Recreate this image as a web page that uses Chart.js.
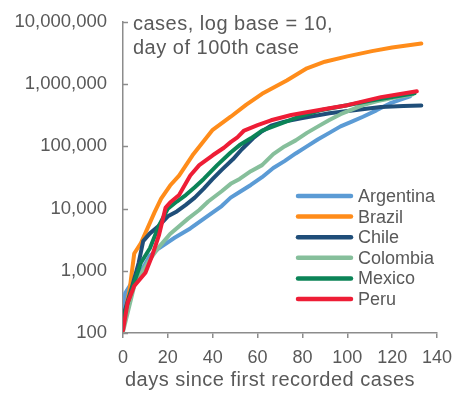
<!DOCTYPE html>
<html>
<head>
<meta charset="utf-8">
<script src="https://cdn.jsdelivr.net/npm/chart.js@4"></script>
<style>
html,body{margin:0;padding:0;background:#fff;}
#wrap{position:relative;width:472px;height:398px;}
</style>
</head>
<body>
<div id="wrap"><canvas id="c" width="472" height="398"></canvas></div>
<script>
// ---- data ----
const countries = ["Argentina", "Brazil", "Chile", "Colombia", "Mexico", "Peru"];
const colors = ["#5B9BD5", "#FF8C1A", "#1F4E79", "#86BF9B", "#0B8457", "#EE1D36"];

const argentinaDays  = [0,1,4,7,12,16,23,30,38,44,48,52,57,62,67,72,77,82,87,92,97,102,107,113,119,124,128];
const argentinaCases = [200,440,650,830,1750,2300,3400,4800,7700,11000,15000,18500,24000,32000,45000,58000,77000,100000,130000,165000,210000,250000,300000,380000,490000,570000,640000];

const brazilDays  = [0,3,5,8,11,14,17,21,25,31,40,48,55,62,73,82,90,100,111,120,133];
const brazilCases = [145,510,1900,2800,4900,8600,14500,23500,34000,72000,185000,300000,470000,700000,1150000,1800000,2300000,2800000,3400000,3900000,4500000];

const chileDays  = [0,4,7,9,12,16,20,24,28,32,36,40,44,49,53,58,62,66,72,80,92,103,115,125,133];
const chileCases = [180,550,1350,3000,4000,5300,7500,9000,11500,15000,21000,30000,42000,62000,90000,135000,175000,215000,250000,285000,340000,380000,430000,445000,455000];

const colombiaDays  = [0,5,11,16,21,29,34,38,44,48,52,57,62,67,72,77,82,87,92,97,102,107,113,120,129];
const colombiaCases = [105,570,1350,2400,3900,6900,9500,13000,19000,25000,30000,40000,50000,75000,100000,125000,165000,210000,265000,330000,390000,460000,530000,600000,680000];

const mexicoDays  = [0,4,8,12,16,20,24,28,32,36,42,48,52,57,62,70,78,88,100,110,120,130];
const mexicoCases = [170,510,1350,2300,5300,10000,13000,16500,22000,30000,50000,80000,105000,135000,180000,230000,296000,380000,460000,540000,620000,715000];

const peruDays  = [0,2,5,10,13,16,19,21,25,30,34,40,45,48,51,54,60,66,75,85,92,100,108,115,123,131];
const peruCases = [110,300,570,930,1750,3700,10400,12500,16500,34000,50000,72000,95000,117000,140000,180000,220000,263000,320000,370000,410000,460000,540000,620000,690000,770000];

const yTickValues = [100, 1000, 10000, 100000, 1000000, 10000000];
const xTickValues = [0, 20, 40, 60, 80, 100, 120, 140];
const chartNote = ["cases, log base = 10,", "day of 100th case"];
const xTitle = "days since first recorded cases";

// ---- build ----
const allDays = [argentinaDays, brazilDays, chileDays, colombiaDays, mexicoDays, peruDays];
const allCases = [argentinaCases, brazilCases, chileCases, colombiaCases, mexicoCases, peruCases];

const FONT = '"Liberation Sans", Arial, sans-serif';
const TXT = '#595959';
const AX = '#8C8C8C';

const datasets = countries.map((name, i) => ({
  label: name,
  data: allDays[i].map((d, j) => ({x: d, y: allCases[i][j]})),
  borderColor: colors[i],
  backgroundColor: colors[i],
  borderWidth: 4,
  pointRadius: 0,
  tension: 0,
  fill: false,
  borderJoinStyle: 'round',
  borderCapStyle: 'round',
  order: countries.length - i
}));

const fmt = v => v.toLocaleString('en-US');

const extras = {
  id: 'extras',
  afterDatasetsDraw(chart) {
    const ctx = chart.ctx;
    const a = chart.chartArea;
    const ys = chart.scales.y;
    ctx.save();
    // inner y tick marks
    ctx.strokeStyle = AX;
    ctx.lineWidth = 1.5;
    yTickValues.forEach(v => {
      const py = Math.round(ys.getPixelForValue(v)) + 0.5;
      ctx.beginPath();
      ctx.moveTo(a.left, py);
      ctx.lineTo(a.left + 5, py);
      ctx.stroke();
    });
    // note text
    ctx.fillStyle = TXT;
    ctx.font = '20px ' + FONT;
    try { ctx.letterSpacing = '0.5px'; } catch (e) {}
    ctx.textBaseline = 'alphabetic';
    ctx.textAlign = 'left';
    ctx.fillText(chartNote[0], a.left + 10, a.bottom - 303);
    ctx.fillText(chartNote[1], a.left + 10, a.bottom - 279);
    // x-axis title
    ctx.textAlign = 'center';
    ctx.fillText(xTitle, a.left + 147, a.bottom + 53);
    try { ctx.letterSpacing = '0px'; } catch (e) {}
    // legend
    ctx.font = '18px ' + FONT;
    ctx.textAlign = 'left';
    chart.data.datasets.forEach((ds, i) => {
      const y = a.bottom - 137 + i * 20.6;
      ctx.strokeStyle = ds.borderColor;
      ctx.lineWidth = 4.5;
      ctx.lineCap = 'round';
      ctx.beginPath();
      ctx.moveTo(a.right - 139, y);
      ctx.lineTo(a.right - 86, y);
      ctx.stroke();
      ctx.fillStyle = TXT;
      ctx.textBaseline = 'middle';
      ctx.fillText(ds.label, a.right - 79, y + 1);
    });
    ctx.restore();
  }
};

new Chart(document.getElementById('c'), {
  type: 'line',
  data: { datasets },
  options: {
    responsive: false,
    animation: false,
    layout: { padding: { top: 22, right: 35, bottom: 0, left: 0 } },
    plugins: { legend: { display: false }, tooltip: { enabled: false }, title: { display: false } },
    scales: {
      x: {
        type: 'linear',
        min: 0, max: 140,
        afterBuildTicks: s => { s.ticks = xTickValues.map(v => ({value: v})); },
        afterFit: s => { s.height = 65; },
        grid: { display: true, drawOnChartArea: false, drawTicks: true, tickLength: 5, color: AX, lineWidth: 1.5 },
        border: { display: true, color: AX, width: 1.5 },
        ticks: { color: TXT, font: { size: 18, family: FONT }, padding: 9, maxRotation: 0 },
        title: { display: false }
      },
      y: {
        type: 'logarithmic',
        min: 100, max: 10000000,
        afterBuildTicks: s => { s.ticks = yTickValues.map(v => ({value: v})); },
        afterFit: s => { s.width = 123; },
        grid: { display: true, drawOnChartArea: false, drawTicks: false, color: AX },
        border: { display: true, color: AX, width: 1.5 },
        ticks: { color: TXT, font: { size: 18.5, family: FONT, lineHeight: 0.3 }, padding: 16, callback: v => fmt(v) }
      }
    }
  },
  plugins: [extras]
});
</script>
</body>
</html>
